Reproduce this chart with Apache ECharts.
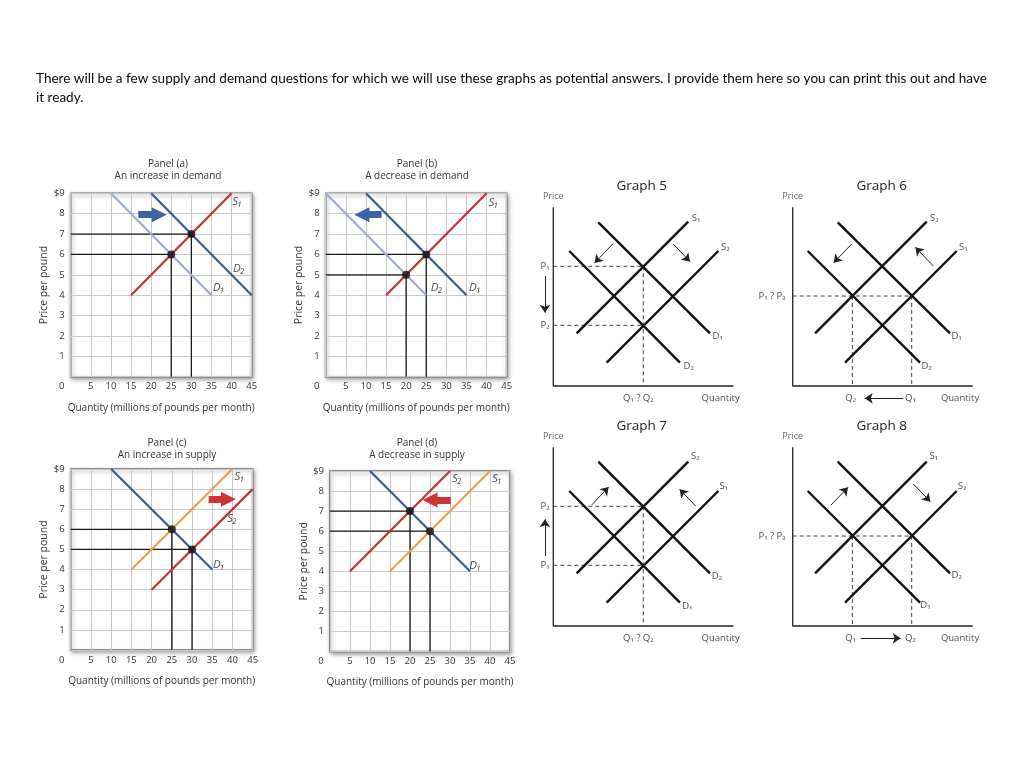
<!DOCTYPE html>
<html><head><meta charset="utf-8">
<script src="https://cdn.jsdelivr.net/npm/echarts@6/dist/echarts.min.js"></script>
<style>html,body{margin:0;padding:0;background:#fff}#c{width:1024px;height:763px}</style>
</head><body><div id="c"></div>
<script>
// ================= DATA =================
const headerLines = [
  'There will be a few supply and demand questions for which we will use these graphs as potential answers. I provide them here so you can print this out and have',
  'it ready.'
];
const panelTitles = [
  ['Panel (a)', 'An increase in demand'],
  ['Panel (b)', 'A decrease in demand'],
  ['Panel (c)', 'An increase in supply'],
  ['Panel (d)', 'A decrease in supply']
];
const qTickLabels = ['0','5','10','15','20','25','30','35','40','45'];
const pTickLabels = ['','1','2','3','4','5','6','7','8','$9'];
const qAxisName = 'Quantity (millions of pounds per month)';
const pAxisName = 'Price per pound';

// Panel (a)
const aS1 = [[15,4],[40,9]];
const aD1 = [[10,9],[35,4]];
const aD2 = [[20,9],[45,4]];
const aEq = [[25,6],[30,7]];
const aShift = [[16.8,7.95],[22,7.95]];
const aLabels = [[41.4,8.6,'S₁'],[41.8,5.3,'D₂'],[36.8,4.37,'D₁']];
// Panel (b)
const bS1 = [[15,4],[40,9]];
const bD1 = [[10,9],[35,4]];
const bD2 = [[0,9],[25,4]];
const bEq = [[25,6],[20,5]];
const bShift = [[13.9,7.95],[9,7.95]];
const bLabels = [[41.7,8.55,'S₁'],[27.6,4.37,'D₂'],[37.1,4.37,'D₁']];
// Panel (c)
const cD1 = [[10,9],[35,4]];
const cS1 = [[15,4],[40,9]];
const cS2 = [[20,3],[45,8]];
const cEq = [[25,6],[30,5]];
const cShift = [[34.1,7.5],[39,7.5]];
const cLabels = [[41.7,8.63,'S₁'],[39.9,6.55,'S₂'],[36.6,4.25,'D₁']];
// Panel (d)
const dD1 = [[10,9],[35,4]];
const dS1 = [[15,4],[40,9]];
const dS2 = [[5,4],[30,9]];
const dEq = [[20,7],[25,6]];
const dShift = [[30.2,7.55],[25,7.55]];
const dLabels = [[31.7,8.6,'S₂'],[41.7,8.6,'S₁'],[36.3,4.3,'D₁']];

const graphTitles = ['Graph 5','Graph 6','Graph 7','Graph 8'];
// Graph 5
const g5Lines = [[[7,15.8],[40.5,49.3]],[[16,7],[49.5,40.5]],[[13.5,49.1],[47,15.8]],[[4.8,40.5],[38,7]]];
const g5Dashed = [[[0,35.9],[27,35.9]],[[0,18.2],[27,18.2]],[[27,35.9],[27,0]]];
const g5Arrows = [[[17.8,42.6],[12.4,36.9]],[[36,42.6],[41,37.3]],[[-2.5,33],[-2.5,22]]];
const g5Texts = [[42.8,50.4,'S₁'],[51.6,41.7,'S₂'],[49.3,15,'D₁'],[40.6,5.8,'D₂'],[-2.5,35.8,'P₁'],[-2.5,18.1,'P₂'],[25.5,-3.7,'Q₁ ? Q₂'],[50.2,-3.7,'Quantity']];
// Graph 6
const g6Lines = [[[6.7,15.8],[40.2,49.3]],[[15.7,7],[49.2,40.5]],[[13.5,49.1],[47.2,15.8]],[[4.5,40.5],[38.2,7]]];
const g6Dashed = [[[0,27],[35.7,27]],[[17.9,27],[17.9,0]],[[35.7,27],[35.7,0]]];
const g6Arrows = [[[33.2,-3.7],[21.6,-3.7]],[[17.7,42.6],[12.3,37]],[[42.2,36],[36.8,41.6]]];
const g6Texts = [[42.5,50.4,'S₂'],[51.2,41.7,'S₁'],[49.2,15,'D₁'],[40.2,5.8,'D₂'],[17.4,-3.7,'Q₂'],[35.3,-3.7,'Q₁'],[50.2,-3.7,'Quantity']];
const g6Right = [[-2,27,'P₁ ? P₂']];
// Graph 7
const g7Lines = [[[7,15.8],[40.5,49.3]],[[16,7],[49.5,40.5]],[[13.5,49.3],[47,15.8]],[[4.8,40.5],[38,7]]];
const g7Dashed = [[[0,35.9],[27,35.9]],[[0,18.2],[27,18.2]],[[27,35.9],[27,0]]];
const g7Arrows = [[[11.5,36.3],[16.6,41.7]],[[42.7,36],[37.9,41]],[[-2.5,21],[-2.5,32]]];
const g7Texts = [[42.6,50.8,'S₂'],[51.1,42,'S₁'],[49.1,15,'D₂'],[40.2,5.8,'D₁'],[-2.5,35.8,'P₂'],[-2.5,18.1,'P₁'],[25.5,-3.7,'Q₁ ? Q₂'],[50.2,-3.7,'Quantity']];
// Graph 8
const g8Lines = [[[6.7,15.8],[40.2,49.3]],[[15.7,7],[49.2,40.5]],[[13.5,49.3],[47.2,15.8]],[[4.5,40.5],[38.2,7]]];
const g8Dashed = [[[0,27],[35.7,27]],[[17.9,27],[17.9,0]],[[35.7,27],[35.7,0]]];
const g8Arrows = [[[11.5,36.3],[16.6,41.6]],[[36.2,42.6],[41.3,37.3]],[[20.4,-3.7],[32.4,-3.7]]];
const g8Texts = [[42.3,50.8,'S₁'],[50.8,41.8,'S₂'],[49.2,15.3,'D₂'],[39.8,6.3,'D₁'],[17.4,-3.7,'Q₁'],[35.3,-3.7,'Q₂'],[50.2,-3.7,'Quantity']];
const g8Right = [[-2,27,'P₁ ? P₂']];
const graphAxes = [[[0,53.6],[0,0],[54,0]]];
const priceLabel = [[0,57,'Price']];

// ================= STYLE / LAYOUT =================
const FONT = 'Open Sans';
const RED = '#c8302f', DB = '#3b5b8f', LB = '#9caed0', OR = '#eda048';
const BLUEARR = '#3e63a2', REDARR = '#cf3333';

const panels = [
  {box:[70.7,193.3,181,183.4], tpos:[168,164], title:panelTitles[0],
   curves:[[aD1,LB],[aD2,DB],[aS1,RED]], eq:aEq, shift:aShift, shiftColor:BLUEARR, labels:aLabels},
  {box:[325.7,193.3,181,183.4], tpos:[417,164], title:panelTitles[1],
   curves:[[bD2,LB],[bD1,DB],[bS1,RED]], eq:bEq, shift:bShift, shiftColor:BLUEARR, labels:bLabels},
  {box:[70.7,469,182,181], tpos:[167,443], title:panelTitles[2],
   curves:[[cD1,DB],[cS1,OR],[cS2,RED]], eq:cEq, shift:cShift, shiftColor:REDARR, labels:cLabels},
  {box:[330,471,180,180.5], tpos:[417,443], title:panelTitles[3],
   curves:[[dD1,DB],[dS1,OR],[dS2,RED]], eq:dEq, shift:dShift, shiftColor:REDARR, labels:dLabels}
];
const U = 10/3; // px per graph unit
const graphs = [
  {origin:[553.3,386], tpos:[641.7,186], lines:g5Lines, dashed:g5Dashed, arrows:g5Arrows, texts:g5Texts, right:[]},
  {origin:[792.7,386], tpos:[881.7,186], lines:g6Lines, dashed:g6Dashed, arrows:g6Arrows, texts:g6Texts, right:g6Right},
  {origin:[553.3,626], tpos:[641.7,426], lines:g7Lines, dashed:g7Dashed, arrows:g7Arrows, texts:g7Texts, right:[]},
  {origin:[792.7,626], tpos:[881.7,426], lines:g8Lines, dashed:g8Dashed, arrows:g8Arrows, texts:g8Texts, right:g8Right}
];

const grids = [], xAxes = [], yAxes = [], series = [], graphic = [];

graphic.push({type:'text', x:36, y:79, style:{text:headerLines[0], font:'13.55px Lato', fill:'#0a0a0a', verticalAlign:'middle'}});
graphic.push({type:'text', x:36, y:98, style:{text:headerLines[1], font:'13.55px Lato', fill:'#0a0a0a', verticalAlign:'middle'}});

function lineS(gi, data, color, width, type, z) {
  return {type:'line', xAxisIndex:gi, yAxisIndex:gi, data:data, symbol:'none', showSymbol:false,
    lineStyle:{color:color, width:width, type:type||'solid'}, silent:true, z:z||3, animation:false};
}
function arrowS(gi, pairs, color, width, symbol, size, z) {
  return {type:'line', xAxisIndex:gi, yAxisIndex:gi, data:[], silent:true, animation:false, z:z||5,
    markLine:{silent:true, animation:false, symbol:['none', symbol], symbolSize:size,
      label:{show:false}, emphasis:{disabled:true},
      lineStyle:{color:color, width:width, type:'solid', opacity:1},
      itemStyle:{color:color},
      data:pairs.map(p => [{coord:p[0]},{coord:p[1]}])}};
}
function textS(gi, items, label) {
  return {type:'scatter', xAxisIndex:gi, yAxisIndex:gi, symbolSize:1, silent:true, animation:false, z:6,
    itemStyle:{color:'rgba(0,0,0,0)'},
    data:items.map(d => ({value:[d[0],d[1]], name:d[2]})),
    label:Object.assign({show:true, position:'inside', formatter:'{b}'}, label)};
}

panels.forEach((p, i) => {
  grids.push({left:p.box[0], top:p.box[1], width:p.box[2], height:p.box[3], show:true,
    backgroundColor:'#fff', borderColor:'#6e6e6e', borderWidth:1.6,
    shadowBlur:4, shadowColor:'rgba(0,0,0,0.35)', shadowOffsetX:1, shadowOffsetY:2});
  xAxes.push({gridIndex:i, type:'value', min:0, max:45, interval:5,
    axisLine:{show:false}, axisTick:{show:false},
    splitLine:{show:true, lineStyle:{color:'#c9c9c9', width:1}},
    axisLabel:{margin:5, fontSize:9.5, color:'#333', fontFamily:FONT,
      formatter:(v) => { const t = qTickLabels[Math.round(v/5)]; return v === 0 ? '{z|' + t + '}' : t; },
      rich:{z:{padding:[0,18,0,0], fontSize:9.5, color:'#333', fontFamily:FONT}}},
    name:qAxisName, nameLocation:'middle', nameGap:26,
    nameTextStyle:{fontSize:10, color:'#333', fontFamily:FONT}});
  yAxes.push({gridIndex:i, type:'value', min:0, max:9, interval:1,
    axisLine:{show:false}, axisTick:{show:false},
    splitLine:{show:true, lineStyle:{color:'#c9c9c9', width:1}},
    axisLabel:{margin:6, fontSize:9.5, color:'#333', fontFamily:FONT,
      formatter:(v) => pTickLabels[Math.round(v)]},
    name:pAxisName, nameLocation:'middle', nameGap:20,
    nameTextStyle:{fontSize:10.5, color:'#333', fontFamily:FONT}});
  graphic.push({type:'text', x:p.tpos[0], y:p.tpos[1], style:{text:p.title[0], font:'10px "Open Sans"', fill:'#333', align:'center', verticalAlign:'middle'}});
  graphic.push({type:'text', x:p.tpos[0], y:p.tpos[1]+12.5, style:{text:p.title[1], font:'10px "Open Sans"', fill:'#333', align:'center', verticalAlign:'middle'}});
  p.eq.forEach(e => series.push(lineS(i, [[0,e[1]],[e[0],e[1]],[e[0],0]], '#1a1a1a', 1.3, 'solid', 2)));
  p.curves.forEach(c => series.push(lineS(i, c[0], c[1], 2.2, 'solid', 3)));
  series.push({type:'scatter', xAxisIndex:i, yAxisIndex:i, data:p.eq, symbolSize:8, silent:true, animation:false,
    itemStyle:{color:'#111'}, z:4});
  series.push(arrowS(i, [p.shift], p.shiftColor, 7, 'triangle', 15, 5));
  series.push(textS(i, p.labels, {fontSize:11.5, fontStyle:'italic', color:'#222', fontFamily:FONT}));
});

graphs.forEach((g, k) => {
  const gi = 4 + k;
  const xmin = -8, xmax = 56, ymin = -6, ymax = 60;
  grids.push({left:g.origin[0] + xmin*U, top:g.origin[1] - ymax*U, width:(xmax-xmin)*U, height:(ymax-ymin)*U, show:false});
  xAxes.push({gridIndex:gi, type:'value', min:xmin, max:xmax, show:false});
  yAxes.push({gridIndex:gi, type:'value', min:ymin, max:ymax, show:false});
  graphic.push({type:'text', x:g.tpos[0], y:g.tpos[1], style:{text:graphTitles[k], font:'13.5px "Open Sans"', fill:'#222', align:'center', verticalAlign:'middle'}});
  series.push(lineS(gi, graphAxes[0], '#222', 1.3, 'solid', 2));
  g.dashed.forEach(d => series.push(lineS(gi, d, '#444', 1, [4,3], 2)));
  g.lines.forEach(l => series.push(lineS(gi, l, '#111', 2.4, 'solid', 3)));
  series.push(arrowS(gi, g.arrows, '#222', 1, 'arrow', 8, 5));
  series.push(textS(gi, g.texts, {fontSize:9.5, color:'#222', fontFamily:FONT}));
  series.push(textS(gi, priceLabel, {fontSize:9, color:'#444', fontFamily:FONT}));
  if (g.right.length) series.push(textS(gi, g.right, {position:'left', distance:0, fontSize:9.5, color:'#222', fontFamily:FONT}));
});

const chart = echarts.init(document.getElementById('c'));
chart.setOption({animation:false, backgroundColor:'#fff', grid:grids, xAxis:xAxes, yAxis:yAxes, series:series, graphic:graphic});
</script>
</body></html>
